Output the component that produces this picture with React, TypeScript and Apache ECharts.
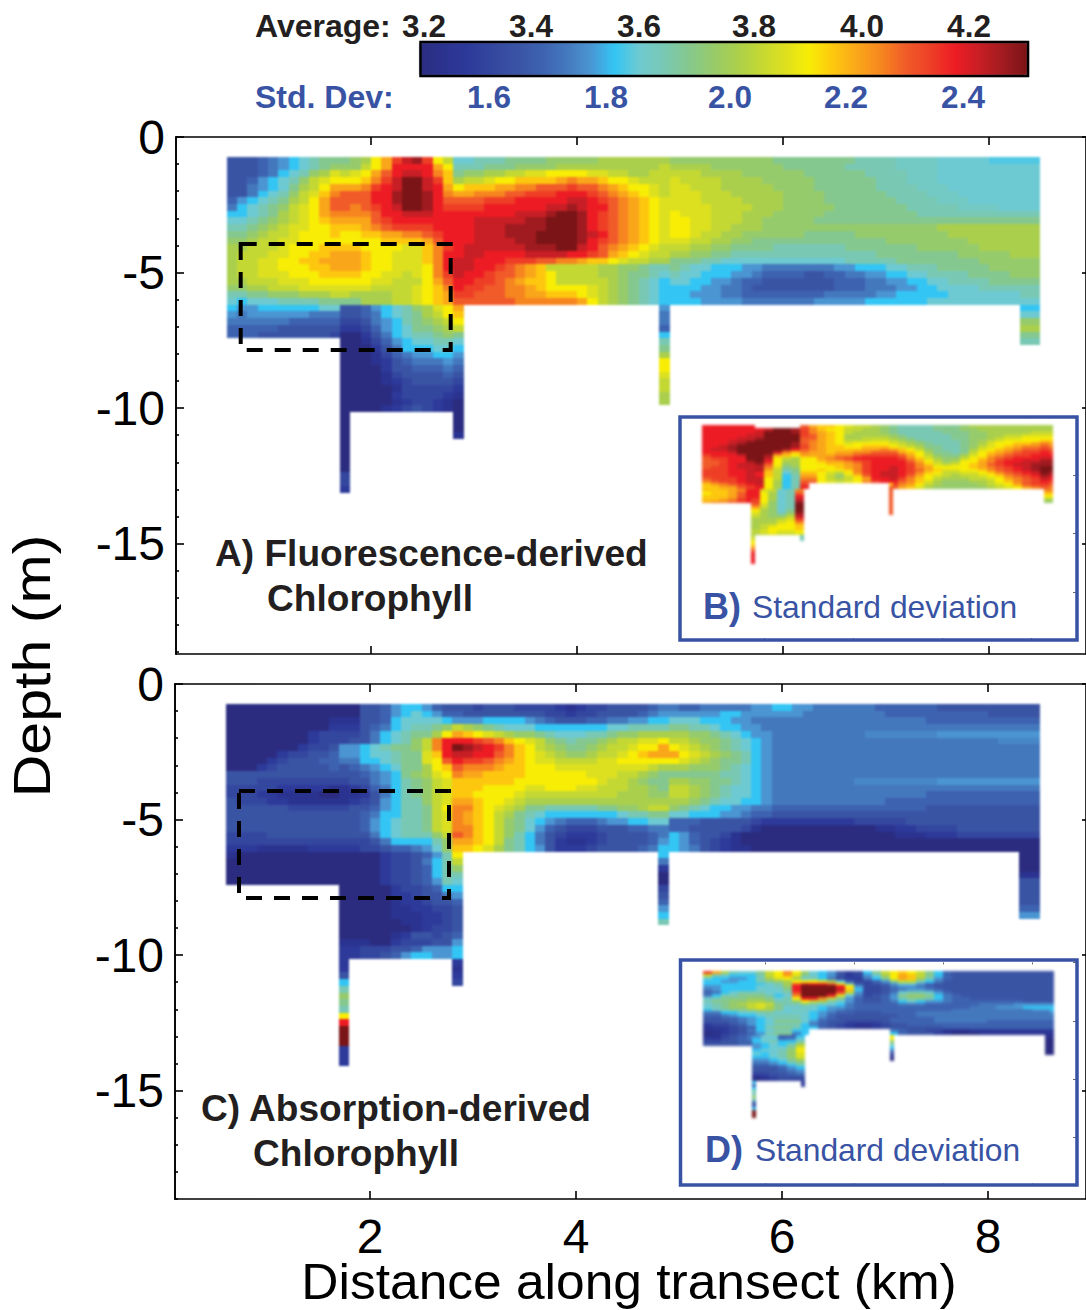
import React, { useEffect, useRef } from "react";
import * as echarts from "echarts";

// Colour levels A..Z run evenly along the colour bar. A lower-case letter is the half step above
// its capital, "X5" repeats a level, "." is no data.
const LEVEL_COLORS = ["#2b2c80","#2b3390","#2d3a9a","#34479f","#3a54a4","#3d62b0","#4478bd","#4a95d2","#33c5f4","#6ecad2","#78c8b4","#85c88f","#96cb6c","#aacf4d","#c4d833","#dde01f","#f8ed05","#fdc70f","#faa61a","#f6851f","#f15a29","#ee3f26","#ed1c24","#c81e25","#a01b20","#7a1416"];
const AVG_RANGE = [3.19, 4.31];
const STD_RANGE = [1.48, 2.51];
const AVG_TICKS = ["3.2","3.4","3.6","3.8","4.0","4.2"];
const STD_TICKS = ["1.6","1.8","2.0","2.2","2.4"];
const X_TICKS = [2,4,6,8];
const Y_TICKS = [0,-5,-10,-15];
const Y_MINOR = [-1,-2,-3,-4,-6,-7,-8,-9,-11,-12,-13,-14,-16,-17,-18,-19];

// Panel A, average fluorescence chlorophyll: x 0.6-8.5 km, 0.1 km columns, rows from -0.74 m
const aMain = [
"EEEFGHIJKLL LMNQSVXYVQO JJKKKLLLLMMMMMN7 M10L8K4j4J5i5",
"EEEFGHIJKLM MMOQSWWWWSQ KKKLLLMMMMN10O N4M7L6K5j4J10",
"EEEFGIJKMNP OPQSUWXXWTR LMMNNOOPPQQQQPPOONNOO O3N4M6L6K4j3J10",
"EEFHIJKMOPQ QQRTVXZZXVR NOOPQQRRRRSTSSRQQPOOO PO4N4M5L6K3j3J10",
"EEGHIJLNOQS SSTVWXZZXWS QRRRSSTTUUUVUUTSRQQPO PPO3N5M4L6K4j3J9",
"EEGIJKMOPRT UUUWWYZZYWT SSTTTUUVVVWWWVUTSRQPO P3O3N5M4L6K4j3J8",
"FHIJKLNOQSU UUUWWYZZYWU UUUVVVWWWWWXXWVUTSRQP P3O4N4M4L7K4j3J7",
"GIJKLMOPQSU UTUVWXZZYWV VVVWWWWWWXXYXWWUTSRQP P4O4N3M5L7K5j4J4",
"IIJKLNOPQST TTTUWWXXXWW WWWWWWXXXYZZYWVUTSRQP QP3O3N3M5L9K12",
"JJKLMNOPQRS SSSUVWWWWWW WWXXXXXYYZZZYWVUTSRQP QQPPO3NNM5L22",
"KKLMNOPPQQR RRSTUVVVVWW WWXXXYYYYZZZYWVUTSRQP QQPPOON3M17N10",
"LLMNOOPQQQR QQRRSSTTUVW WWXXXYYYZZZZYXWUTSRQP QQPOONNM6L5M9N9",
"MMNOOPPQQQQ QQQQRRRRSUW WWXXXXYYZZZZYWVUTSRQP PPOONNMML13M8N7",
"NNOOOPQQQRR RRQQQQPPRTV WX6YYYZZXWUTSRQPO OONNMML4K7L7M6N6",
"NOOOPPQQRRS SSRQQPPPRTW WXXW4X4WWVUSRQPOO NNMMLLK14L8M5N3",
"NOOPPQQRRSS SSRQQPPPRTW XXWWWVVVUUTTSRRQPOONN L3KKJ12K5L8M6",
"NOOPPQQQRRS SSRQQPPPQTW XXWWVUTSRO5NNMMLKK LKJJI3HHG7HHI3JJK3L5M5",
"NOOPPPQQQRR RRQQPPOPQTV XWWVUUTSRQO4NNMLLKJ KJJI3HHGF4EEFFGGHHIIJJK4L4M3",
"NNOOOPPPQQQ QQQPPOOOQSU WWVVUTSRRQO5NMLKJI JJIIHHGFFE7F3GGHHIIJJK4L5",
"MMNNOOOPPPP PPPOOOOPQRT WVVUUTTSRQQQQPONMLKJI I3HHGGFE8F3G3HHIIJ4K6",
"KKLLMMMNNNO ONNNNOOPQRS VVUUUTTSSRRRQPONMLKJI IIH3GGF8G5HHI5J7KK",
"JIJJJKKKKLL LLNNNOOPQRS U6T6SQONMLKJI I3H4G7H5I6J11",
];
const aLeftLower = ["IHHIIIIIIJJ","HGHHHHHHGGG","GGGGGGFFFFF","FFFFFEEEEEE","FFFEEEEEEED"];
const aDeep = [
"EEFHIJKMNPQS","EEFGIJKLNOQR","DDEGHIKLMNOQ","CCDFHIJLLMNO","AACEGIJKKLML","AABDFHIJJKKJ",
"AAACEGIIIJJI","AAABDFGHHIIH","AAABCEFGGGHG","AAAACEEFFFGF","AAAABDEEEEFE","AAAABCDEEEED",
"AAAAABDDDDDC","AAAAACDDDDCB","AAAAABCDDCBA","AAAABCDEDCBA",
];
const aCol17 = "AAAAAAAAADDC";
const aCol28 = "AAAB";
const aCol48 = "HGGFIKLNQQPOONN";
const aCol83 = "IJMNLK";

// Panel C, average absorption chlorophyll
const cMain = [
"A11 AAEEFHIIHFE EEDEEEDDDDCBCDDEEEEFG GFFG5HHIIHHG6F6E10",
"A11 AAEEFHIJIHF FE8DDCDDE4FGH H5IIH6G8F10E5",
"A10B BBEEFIJJJJI HHHI4HGFEEEFFGGHHII JJJIIIHHGG G15F11",
"A10C CCEFGIJKKLM ONMLKJJJI7JJKKKK LLKKJIIHHG G26",
"A8CDD DDEGIJKLLNQ SRQPONMMLKJJJKKLMMNNN NNMMLKJIHH G9g7H10",
"A8CDD DEEGIJKMOTW WWVUTRQPOMLKLLMNOOPPQ OONMMLKJIH G22g4",
"A7CDDE HHIJKLLMOTW ZYXWVTRQONMLLMNOOPQQS QPONMLKJIH G26",
"A5CDDEEF HHIJJKLLPRW XXWWUTRQPONMMNOOPQRSS SQPONMLKIH G26",
"A4CDEEEFF GGIIJKLLPQU WVVUTSRQPPO4PPQ5 QPONMLLKIH G26",
"AAACDE5F EFGHIJLLNQR UT3SRRQQQP9ON NNMMMLKJIH G26",
"E11 EEFGHILMNPQ TSSR4Q6PPPOONML LLLLLKKJIH G26",
"EEED8 DEEGHIKLMOP R6Q8POONMLL NNMMLLKJIH G8g8H10",
"D5C5B BCDFGIKLMOP RRRQ4PPQQQPPOOONNML OONMLKJJIH G26",
"DDDCCB4AA BBCEGIKLMOP RRQ4PO9NNNMM OONMLKJJIH G15F11",
"EDDDCCB5 BCDEHIKKMOP SSRQQPON14 NNMLKJJIIH G11F15",
"E6D5 DEEFHIKKLOQ TTRQPONLLK5LLMMNOO MLKJIIHHGGF15E11",
"E11 EEFGIIKKLOP TSRQONLKJI7JKKLL JJIIIHHGFFE26",
"E11 EEFHIJKKLOP TSRQOMLJIHGF3GHHIIJJ F3E5DC9D5E13",
"E11 EEFHIJKKLOP TTRQOMLJHFED3E3FFGG FFE5DBA11BBCCD4E8",
"D4E7 EEEGIJKKKMO UTRQOMKIGEDC3DE4FG IHFEEDBA15B3C3D8",
"D11 DDDEGIIIIKM SSRQOLKIGECBBCDE4FH IHFEDCBA29",
"CCCB5CCC CCDDEFFGHJM RRQPNLKIHECCCDE4FGI IHGEDCBBA28",
];
const cLeftLower = ["BA10","A11","A11","A11","A11"];
const cDeep = [
"AAAACDDEFHKQ","AAAACDDEGIKO","AAAACDDEFIKM","AAAACDDEFIKK","AAAACDDEFHKJ","AAAAACDDEFII",
"AAAAACCDEEGH","AAAAABCCDEEF","AAAAABBCCDDE","AAAAABBBCCDE","AAAAAABBCCDE","AAAAAAABCDDE",
"AAAAABCEEDEF","BBBAACDDDEEH","CCDDDEEFHHHI","CCDDEFHIIHHI",
];
const cCol17 = "CCEIKMLKQWZZZCCC";
const cCol28 = "CBCD";
const cCol48 = "IGCAADEFHIK";
const cCol83 = "AAABEEEEFH";

// Panel B, standard deviation of A: 0.2 km columns from 0.6 km
const bMain = [
"W6.5U SRRQPOONM LK4LLLMN9",
"WWWWWWWXZZYV TRQQOONNM LK4LLLMMN8",
"WWWWWWXZZZYV TSRQONNNM LK5LLLMMN5OO",
"WWWWWXXZZZZV USRQN5 MLK5LLMMNNOOPPP",
"WWWWXXYZZZZU USRQNNOOO NMLK4LLMMNOPPQQQ",
"WWWXXYZZZZZU TSRQOOOPP ONMLK4LMNOPQ4R",
"WWWXYZZZZZYU TSRQPQQQQ PONMLKKKLMNPQQRRST",
"WWXYZ6YV TSRRQQRRR QPONLLKKLMOPQRSTTU",
"WXXYZ5YWU TSRRRRSST SRQOMLKKLNPQRSTUUV",
"WWWXZZZZXTRT SSRSSTTUU USRQNLLKLOQRSTUVVW",
"VWWWXZZYSRQS SSSTTUVVV VUSQOMLLNPQSTUVVWW",
"UVVWWZZXQONQ QSTUVWWWW WVTRPNMMOQRTUVWWWX",
"UUVWWYZWQNNQ QRSSTUVWW WWUSQOMNQQSTVWWXXY",
"UUVWXXYUQMNQ QQRRSTVWW WWVTRPOPQRSUVWXXYY",
"UVVWXXXTPLMQ QQQRSTVWW XWVTSQQQQRSTUVWXYZ",
"VVVWWXYSOKLQ QRQQRTVWW XWVUSRPPQQRTUVWXYZ",
"VVVWWXWROJLR RQPOQTVWX XWVTRQOOPPQRTUVWXZ",
"VVVWWXWROIKS SQOMPRUWX XWUSQPONOOPQRTUVWY",
"UVVVWXXQOIKT TQONOQSWW XVTRQONNNOOPQSTUVX",
"TUVVWXXQNIKU UQPOPQTVW WUTRPNMMMNNOQRTUVW",
"RSTUVWXQNIKV .9 VTSQONMMMMNOPQSUVV",
"RRSSUVWQNIKW .9 USRPNM6NOPQSTU",
];
const bLeftLower = ["RRRST","QRRSU","RRRSU","RRSTV","STTUV"];
const bCol16 = "WWWWW";
const bDeep = ["WPOJKT","WQNJKU","WQNJKW","VQNJKX","VQMJKY","UPMJKZ","SOMJKZ","QNMJLZ","PNMKMY","ONMMOX","NNNOPV","NNNPQT","NOPQQR","NOQQQR","OPQPPQ","NOPOOP"];
const bCol17 = "OPQRTVWWWW";
const bCol28 = "KK";
const bCol48 = "RUUUUUUUUUU";
const bCol83 = "TRQNM";
const bCol84 = "NNOPQRSTUVWXYYZZYXWVUT";

// Panel D, standard deviation of C
const dMain = [
"VSNKJJLOQTQM JIHECDILO QRQOLIFE11",
"OKJIIIKOQSPL JIHECDHJN QSROLIFE11",
"JIIHHIKNPQNJ KIGDCCGIL QSRNKHFE11",
"IIHHIIKLMNQQ QPNJFDDFH LOOKIGE12",
"IIIIIIIJKNUX WWUQKEDEF HJJHFE13",
"HHIIIIJJKMWZ ZZZWQHDDE GHHGFE13",
"GHIIIIJJJLWZ ZZZXRIDDE FGHHGFE12",
"FGIJKKKJJKVZ ZZZVOHDDE GJKKJHFE11",
"GIKKLLLKIJTZ ZZWPJGDEF HLMMLIGFE10",
"JKLLLMMLJKQW WTOLHFEEF HKLLKIGFFE9",
"KLLMMNNMKKMQ ONKJHFEEF GIJIHHGF8E3",
"JKLMNOPOLKKL KJJIGFFFF FGGGF6GGGGHHHH",
"JKLMMOPNLJJJ JIHHGFFFF F9GGGHHHIII",
"IJKLLMNNLJKK JIHGFFFFF F7G9HH",
"GGIIJJKKJJJJ IHGFFEEEF FFFG15",
"FFGHIIJKKKKJ IHFE6 EFFG15",
"EEFFGHIJKKKJ IGFE6 F5G13",
"EEEFGHIJLLLJ HFEEDDDDE F5G6F7",
"CDDEFHIJKKKI GFEDCBBCD EEF16",
"BCCDEFIKLLKI IFEDCBBCD E6F12",
"BBCDEGIJKKII .9 GFEEDDBBBC9",
"ABCDEFHKLLGI .9 IFEEECBAAAB8",
];
const dLeftLower = ["BBDEF","CCDEF","DDEEF","EEEEF"];
const dCol16 = "GGFF";
const dDeep = ["HJJFFI","IJJFGJ","IJKIIK","HIJIKN","HIJJLP","IJJKMQ","JIJKMP","IIJKMP","HHIJLN","GGHIKL","FFGHIK","EEEFHI","EEEFGH","DDEEFG","BCDEEE","ABCDDD"];
const dCol17 = "IFILJMKFDIZZZ";
const dCol28 = "CC";
const dCol48 = "QQMKIGDBA";
const dCol83 = "BAAAAAA";
const dCol84 = "EEEEEEEEEEEHIIHGGFFFCB";

const TOP = -0.74, ROW = 0.2475;
const expand = (s: string) => s.replace(/\s/g, "").replace(/([A-Za-z.])(\d+)/g, (_m, c, n) => c.repeat(+n));

type Cell = [number, number, number, number];
function level(ch: string) {
  const c = ch.charCodeAt(0);
  if (c >= 65 && c <= 90) return c - 65;
  if (c >= 97 && c <= 122) return c - 97 + 0.5;
  return -1;
}
function block(out: Cell[], rows: string[], x0: number, row0: number, w: number, range: number[]) {
  rows.forEach((raw, r) => {
    const s = expand(raw);
    for (let i = 0; i < s.length; i++) {
      const idx = level(s[i]);
      if (idx < 0) continue;
      out.push([x0 + i * w, TOP - (row0 + r) * ROW, range[0] + (idx / 25) * (range[1] - range[0]), w]);
    }
  });
}
const col = (s: string) => s.split("");

function buildA() {
  const o: Cell[] = [];
  block(o, aMain, 0.6, 0, 0.1, AVG_RANGE);
  block(o, aLeftLower, 0.6, 22, 0.1, AVG_RANGE);
  block(o, aDeep, 1.7, 22, 0.1, AVG_RANGE);
  block(o, col(aCol17), 1.7, 38, 0.1, AVG_RANGE);
  block(o, col(aCol28), 2.8, 38, 0.1, AVG_RANGE);
  block(o, col(aCol48), 4.8, 22, 0.1, AVG_RANGE);
  block(o, col(aCol83), 8.3, 22, 0.2, AVG_RANGE);
  return o;
}
function buildC() {
  const o: Cell[] = [];
  block(o, cMain, 0.6, 0, 0.1, AVG_RANGE);
  block(o, cLeftLower, 0.6, 22, 0.1, AVG_RANGE);
  block(o, cDeep, 1.7, 22, 0.1, AVG_RANGE);
  block(o, col(cCol17), 1.7, 38, 0.1, AVG_RANGE);
  block(o, col(cCol28), 2.8, 38, 0.1, AVG_RANGE);
  block(o, col(cCol48), 4.8, 22, 0.1, AVG_RANGE);
  block(o, col(cCol83), 8.3, 22, 0.2, AVG_RANGE);
  return o;
}
function buildB() {
  const o: Cell[] = [];
  block(o, bMain, 0.6, 0, 0.2, STD_RANGE);
  block(o, bLeftLower, 0.6, 22, 0.2, STD_RANGE);
  block(o, col(bCol16), 1.6, 22, 0.1, STD_RANGE);
  block(o, bDeep, 1.7, 22, 0.2, STD_RANGE);
  block(o, col(bCol17), 1.7, 38, 0.1, STD_RANGE);
  block(o, col(bCol28), 2.8, 38, 0.1, STD_RANGE);
  block(o, col(bCol48), 4.8, 20, 0.1, STD_RANGE);
  block(o, col(bCol83), 8.3, 22, 0.2, STD_RANGE);
  block(o, col(bCol84), 8.4, 0, 0.1, STD_RANGE);
  return o;
}
function buildD() {
  const o: Cell[] = [];
  block(o, dMain, 0.6, 0, 0.2, STD_RANGE);
  block(o, dLeftLower, 0.6, 22, 0.2, STD_RANGE);
  block(o, col(dCol16), 1.6, 22, 0.1, STD_RANGE);
  block(o, dDeep, 1.7, 22, 0.2, STD_RANGE);
  block(o, col(dCol17), 1.7, 38, 0.1, STD_RANGE);
  block(o, col(dCol28), 2.8, 38, 0.1, STD_RANGE);
  block(o, col(dCol48), 4.8, 22, 0.1, STD_RANGE);
  block(o, col(dCol83), 8.3, 22, 0.2, STD_RANGE);
  block(o, col(dCol84), 8.4, 0, 0.1, STD_RANGE);
  return o;
}

const FONT = "Liberation Sans";
const INK = "#231f20";
const BLUE = "#3953a4";

function txt(text: string, x: number, y: number, size: number, fill: string, bold: boolean, align = "left", rotation = 0, scaleX = 1) {
  return {
    type: "text", x, y, rotation, scaleX, z: 60, silent: true,
    style: { text, fontSize: size, fontWeight: bold ? "bold" : "normal", fontFamily: FONT, fill, align, verticalAlign: "middle" },
  };
}

const PANELS = [
  { left: 176, top: 137, w: 910, h: 517, xMin: 0.107, xMax: 8.942, yMin: -19.07, inset: false, xLabels: false },
  { left: 175, top: 684, w: 911, h: 515, xMin: 0.107, xMax: 8.95, yMin: -19.0, inset: false, xLabels: true },
  { left: 681, top: 416.3, w: 395, h: 223.7, xMin: 0.135, xMax: 9.01, yMin: -19.05, inset: true, xLabels: false },
  { left: 681, top: 962.4, w: 395, h: 223, xMin: 0.112, xMax: 8.99, yMin: -19.1, inset: true, xLabels: false },
];

const renderCell = (_params: any, api: any) => {
  const x0 = api.value(0), y0 = api.value(1), w = api.value(3);
  const a = api.coord([x0, y0]);
  const b = api.coord([x0 + w, y0 - ROW]);
  const l = Math.round(a[0]), t = Math.round(a[1]);
  return {
    type: "rect",
    shape: { x: l, y: t, width: Math.round(b[0]) - l, height: Math.round(b[1]) - t },
    style: { fill: api.visual("color") },
  };
};

function heatOption(idx: number[], data: Cell[][], visualMap: any) {
  const hidden = { show: false };
  return {
    animation: false,
    grid: idx.map((i) => ({ left: PANELS[i].left, top: PANELS[i].top, width: PANELS[i].w, height: PANELS[i].h })),
    xAxis: idx.map((i, g) => ({ type: "value", gridIndex: g, min: PANELS[i].xMin, max: PANELS[i].xMax, splitLine: hidden, axisLine: hidden, axisTick: hidden, axisLabel: hidden })),
    yAxis: idx.map((i, g) => ({ type: "value", gridIndex: g, min: PANELS[i].yMin, max: 0, splitLine: hidden, axisLine: hidden, axisTick: hidden, axisLabel: hidden })),
    series: data.map((d, g) => ({
      type: "custom", coordinateSystem: "cartesian2d", xAxisIndex: g, yAxisIndex: g,
      encode: { x: 0, y: 1 }, silent: true, clip: false, progressive: 0, data: d, renderItem: renderCell,
    })),
    visualMap,
  };
}

function frameOption() {
  const grids: any[] = [], xAxes: any[] = [], yAxes: any[] = [];
  PANELS.forEach((p, g) => {
    grids.push({ left: p.left, top: p.top, width: p.w, height: p.h });
    const line = { show: !p.inset, onZero: false, lineStyle: { color: "#000", width: 1.6 } };
    const tick = (values: number[], length: number, show = true) => ({
      show, inside: true, length, customValues: values,
      lineStyle: { color: p.inset ? "#666" : "#000", width: p.inset ? 1 : 1.6 },
    });
    const xBase = { type: "value", gridIndex: g, min: p.xMin, max: p.xMax, splitLine: { show: false }, axisLine: line, axisTick: tick(X_TICKS, p.inset ? 2 : 8) };
    xAxes.push({
      ...xBase, position: "bottom",
      axisLabel: p.xLabels
        ? { show: true, customValues: X_TICKS, fontSize: 48, fontFamily: FONT, color: "#000", margin: 13, formatter: (v: number) => String(v) }
        : { show: false },
    });
    xAxes.push({ ...xBase, position: "top", axisLabel: { show: false } });
    const yBase = { type: "value", gridIndex: g, min: p.yMin, max: 0, splitLine: { show: false }, axisLine: line };
    yAxes.push({
      ...yBase, position: "left", axisTick: tick(Y_TICKS, 8, !p.inset),
      axisLabel: p.inset ? { show: false } : { show: true, customValues: Y_TICKS, fontSize: 48, fontFamily: FONT, color: "#000", margin: 11, formatter: (v: number) => String(v) },
    });
    yAxes.push({ ...yBase, position: "left", axisTick: tick(Y_MINOR, 3, !p.inset), axisLabel: { show: false } });
    yAxes.push({ ...yBase, position: "right", axisTick: tick(Y_TICKS, p.inset ? 3 : 4), axisLabel: { show: false } });
  });
  const avgX = [424, 531, 639, 754, 862, 969];
  const stdX = [489, 606, 730, 846, 963];
  const graphic: any[] = [
    txt("Average:", 255, 26, 32, INK, true),
    ...AVG_TICKS.map((t, i) => txt(t, avgX[i], 26, 31.5, INK, true, "center")),
    txt("Std. Dev:", 255, 97, 32, BLUE, true),
    ...STD_TICKS.map((t, i) => txt(t, stdX[i], 97, 31.5, BLUE, true, "center")),
    { type: "rect", z: 60, silent: true, shape: { x: 420.5, y: 42, width: 607.5, height: 34 }, style: { fill: "none", stroke: "#000", lineWidth: 2.5 } },
    { type: "rect", z: 60, silent: true, shape: { x: 240.7, y: 244, width: 210, height: 106 }, style: { fill: "none", stroke: "#000", lineWidth: 4, lineDash: [16, 12] } },
    { type: "rect", z: 60, silent: true, shape: { x: 239, y: 791, width: 210, height: 107 }, style: { fill: "none", stroke: "#000", lineWidth: 4, lineDash: [16, 12] } },
    { type: "rect", z: 60, silent: true, shape: { x: 680, y: 417, width: 397, height: 223 }, style: { fill: "none", stroke: BLUE, lineWidth: 3.5 } },
    { type: "rect", z: 60, silent: true, shape: { x: 680.5, y: 960, width: 396.5, height: 225 }, style: { fill: "none", stroke: BLUE, lineWidth: 3.5 } },
    txt("A) Fluorescence-derived", 215, 553, 37.1, INK, true),
    txt("Chlorophyll", 267, 598, 37.1, INK, true),
    txt("C) Absorption-derived", 201, 1108, 37.1, INK, true),
    txt("Chlorophyll", 253, 1153, 37.1, INK, true),
    txt("B)", 703, 606, 36, BLUE, true),
    txt("Standard deviation", 752, 607, 31.8, BLUE, false),
    txt("D)", 705, 1149, 36, BLUE, true),
    txt("Standard deviation", 755, 1150, 31.8, BLUE, false),
    txt("Depth (m)", 32, 666, 52, "#000", false, "center", Math.PI / 2, 1.137),
    txt("Distance along transect (km)", 629, 1282, 50, "#000", false, "center", 0, 1.03),
  ];
  return { animation: false, grid: grids, xAxis: xAxes, yAxis: yAxes, series: [], graphic: { elements: graphic } };
}

export default function App() {
  const mainRef = useRef<HTMLDivElement>(null);
  const insetRef = useRef<HTMLDivElement>(null);
  const frameRef = useRef<HTMLDivElement>(null);
  useEffect(() => {
    document.body.style.margin = "0";
    document.body.style.overflow = "hidden";
    const main = echarts.init(mainRef.current!, null, { renderer: "svg" });
    const inset = echarts.init(insetRef.current!, null, { renderer: "svg" });
    const frame = echarts.init(frameRef.current!, null, { renderer: "svg" });
    main.setOption(heatOption([0, 1], [buildA(), buildC()], [{
      type: "continuous", seriesIndex: [0, 1], dimension: 2, min: AVG_RANGE[0], max: AVG_RANGE[1],
      inRange: { color: LEVEL_COLORS }, orient: "horizontal", left: 420, top: 42, itemWidth: 34, itemHeight: 608,
      calculable: false, realtime: false, padding: 0, text: null, showLabel: false, hoverLink: false,
    }]));
    inset.setOption(heatOption([2, 3], [buildB(), buildD()], [{
      type: "continuous", seriesIndex: [0, 1], dimension: 2, min: STD_RANGE[0], max: STD_RANGE[1],
      inRange: { color: LEVEL_COLORS }, show: false,
    }]));
    frame.setOption(frameOption());
    return () => { main.dispose(); inset.dispose(); frame.dispose(); };
  }, []);
  const layer = { position: "fixed", left: 0, top: 0, width: 1086, height: 1310 } as const;
  return (
    <div style={{ ...layer, background: "#fff", overflow: "hidden" }}>
      <div ref={mainRef} style={{ ...layer, filter: "blur(0.8px)" }} />
      <div ref={insetRef} style={{ ...layer, filter: "blur(1.5px)" }} />
      <div ref={frameRef} style={layer} />
    </div>
  );
}
